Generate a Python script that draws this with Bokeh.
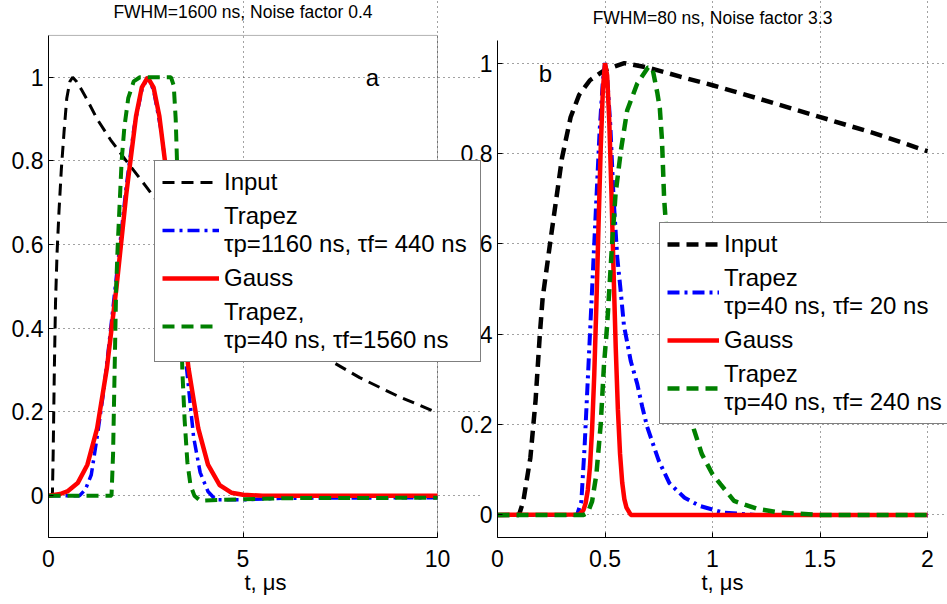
from bokeh.plotting import figure
from bokeh.models import Range1d, FixedTicker, Legend, LegendItem, Label, BoxAnnotation
from bokeh.layouts import row
from bokeh.embed import file_html
from bokeh.resources import INLINE

FONT = "Liberation Sans"

# ---------------- panel a data (t in microseconds) ----------------
title_a = "FWHM=1600 ns, Noise factor 0.4"
t_input_a = [0, 0.1, 0.12, 0.15, 0.18, 0.22, 0.27, 0.33, 0.4, 0.47, 0.55, 0.62, 0.72, 0.85,
             1.0, 1.25, 1.6, 2.0, 2.5, 3.0, 3.5, 4.0, 5.0, 6.0, 7.0, 8.0, 9.0, 10.0]
v_input_a = [0, 0, 0.1, 0.3, 0.46, 0.58, 0.68, 0.78, 0.87, 0.95, 0.99, 1.0, 0.99, 0.97,
             0.945, 0.9, 0.85, 0.8, 0.74, 0.678, 0.621, 0.569, 0.477, 0.4, 0.336, 0.282, 0.237, 0.198]
t_trap1_a = [0, 0.8, 0.95, 1.1, 1.25, 1.42, 1.6, 1.8, 2.0, 2.2, 2.4, 2.55, 2.7, 2.9, 3.1, 3.3,
             3.5, 3.73, 3.9, 4.1, 4.3, 5.0, 6.0, 10.0]
v_trap1_a = [0, 0, 0.015, 0.05, 0.14, 0.25, 0.4, 0.57, 0.74, 0.88, 0.97, 1.0, 0.97, 0.87, 0.72, 0.54,
             0.35, 0.14, 0.055, 0.01, -0.01, -0.01, -0.006, -0.005]
t_gauss_a = [0, 0.3, 0.5, 0.75, 1.0, 1.25, 1.5, 1.75, 2.0, 2.25, 2.4, 2.55, 2.7, 2.85, 3.1, 3.35,
             3.6, 3.85, 4.1, 4.4, 4.7, 5.0, 5.5, 10.0]
v_gauss_a = [0.0, 0.004, 0.011, 0.03, 0.074, 0.161, 0.304, 0.5, 0.721, 0.907, 0.976, 1.0, 0.976, 0.907,
             0.721, 0.5, 0.304, 0.161, 0.074, 0.025, 0.007, 0.002, 0.0, 0.0]
t_trap2_a = [0, 1.62, 1.66, 1.7, 1.74, 1.78, 1.82, 1.88, 1.95, 2.05, 2.19, 2.35, 3.15, 3.22, 3.27,
             3.32, 3.38, 3.44, 3.5, 3.57, 3.65, 3.75, 3.9, 4.5, 6.0, 10.0]
v_trap2_a = [0, 0, 0.1, 0.3, 0.5, 0.6, 0.68, 0.8, 0.88, 0.95, 0.99, 1.0, 1.0, 0.98, 0.9,
             0.75, 0.55, 0.3, 0.18, 0.08, 0.025, 0.0, -0.012, -0.01, -0.006, -0.005]
labels_a = ["Input", "Trapez\nτp=1160 ns, τf= 440 ns", "Gauss", "Trapez,\nτp=40 ns, τf=1560 ns"]
x_ticks_a = [0, 5, 10]
x_tick_labels_a = ["0", "5", "10"]
x_lim_a = (0, 10)
y_lim_a = (-0.1, 1.1)

# ---------------- panel b data ----------------
title_b = "FWHM=80 ns, Noise factor 3.3"
t_input_b = [0, 0.1, 0.12, 0.153, 0.177, 0.197, 0.21, 0.25, 0.3, 0.34, 0.38, 0.43, 0.5, 0.59,
             0.7, 0.85, 1.0, 1.21, 1.47, 1.75, 2.0]
v_input_b = [0, 0, 0.03, 0.127, 0.253, 0.4, 0.48, 0.62, 0.79, 0.88, 0.93, 0.962, 0.985, 1.0,
             0.99, 0.97, 0.951, 0.922, 0.885, 0.845, 0.805]
t_trap1_b = [0, 0.37, 0.39, 0.405, 0.415, 0.43, 0.445, 0.46, 0.475, 0.49, 0.5, 0.51, 0.525, 0.54,
             0.557, 0.572, 0.588, 0.62, 0.65, 0.673, 0.696, 0.75, 0.8, 0.87, 0.94, 1.05, 1.2, 2.0]
v_trap1_b = [0, 0, 0.03, 0.15, 0.25, 0.4, 0.55, 0.7, 0.85, 0.96, 1.0, 0.97, 0.86, 0.7,
             0.57, 0.5, 0.42, 0.34, 0.29, 0.24, 0.195, 0.12, 0.07, 0.038, 0.02, 0.005, 0.0, 0.0]
t_gauss_b = [0, 0.38, 0.40, 0.41, 0.42, 0.43, 0.44, 0.45, 0.46, 0.47, 0.48, 0.49, 0.50, 0.51,
             0.52, 0.53, 0.54, 0.55, 0.56, 0.57, 0.58, 0.59, 0.60, 0.62, 2.0]
v_gauss_b = [0, 0.001, 0.011, 0.026, 0.055, 0.106, 0.19, 0.31, 0.466, 0.642, 0.81, 0.94, 1.0, 0.973,
             0.87, 0.712, 0.536, 0.369, 0.233, 0.135, 0.072, 0.035, 0.016, 0.0, 0.0]
t_trap2_b = [0, 0.40, 0.42, 0.44, 0.46, 0.48, 0.495, 0.51, 0.533, 0.549, 0.575, 0.603, 0.65, 0.7,
             0.72, 0.743, 0.755, 0.765, 0.775, 0.79, 0.82, 0.85, 0.88, 0.913, 0.95, 1.0, 1.037,
             1.1, 1.21, 1.32, 1.5, 2.0]
v_trap2_b = [0, 0, 0.005, 0.03, 0.09, 0.2, 0.33, 0.42, 0.6, 0.71, 0.81, 0.895, 0.955, 0.99,
             0.99, 0.935, 0.9, 0.83, 0.7, 0.6, 0.46, 0.35, 0.27, 0.19, 0.135, 0.09, 0.068,
             0.031, 0.013, 0.005, 0.0, 0.0]
labels_b = ["Input", "Trapez\nτp=40 ns, τf= 20 ns", "Gauss", "Trapez\nτp=40 ns, τf= 240 ns"]
x_ticks_b = [0, 0.5, 1, 1.5, 2]
x_tick_labels_b = ["0", "0.5", "1", "1.5", "2"]
x_lim_b = (0, 2)
y_lim_b = (-0.05, 1.05)

y_ticks = [0, 0.2, 0.4, 0.6, 0.8, 1]
y_tick_labels = ["0", "0.2", "0.4", "0.6", "0.8", "1"]
x_axis_label = "t, μs"

CANVAS_H = 611


def make_panel(x_lim, y_lim, box_w, extra_right, box_h, extra_top, width, left, bottom):
    # The plotting frame is widened to the right and upward beyond the axes box, so
    # that the legend may overhang the box and the title may sit above it, as in the
    # original; the data ranges are widened by the matching amounts.
    x_end = x_lim[1] + (x_lim[1] - x_lim[0]) * extra_right / box_w
    y_end = y_lim[1] + (y_lim[1] - y_lim[0]) * extra_top / box_h
    p = figure(width=width, height=CANVAS_H, x_range=Range1d(x_lim[0], x_end),
               y_range=Range1d(y_lim[0], y_end), output_backend="svg",
               toolbar_location=None, min_border_left=left, min_border_right=0,
               min_border_top=0, min_border_bottom=bottom)
    p.outline_line_color = None
    p.background_fill_color = None
    p.border_fill_color = None
    return p


def style_axes(p, x_ticks, x_labels, x_lim, y_lim, title, title_dy):
    for ax, ticks, labs in ((p.xaxis[0], x_ticks, x_labels), (p.yaxis[0], y_ticks, y_tick_labels)):
        ax.ticker = FixedTicker(ticks=ticks)
        ax.major_label_overrides = dict(zip(ticks, labs))
        ax.major_label_text_font = FONT
        ax.major_label_text_font_size = "23px"
        ax.major_label_text_color = "black"
        ax.major_tick_in = 5
        ax.major_tick_out = 0
        ax.minor_tick_in = 0
        ax.minor_tick_out = 0
        ax.axis_line_color = "black"
        ax.major_tick_line_color = "black"
    p.xaxis.bounds = x_lim
    p.yaxis.bounds = y_lim
    p.xaxis.major_label_standoff = 12
    p.yaxis.major_label_standoff = 5
    p.xaxis.axis_label = x_axis_label
    p.xaxis.axis_label_text_font = FONT
    p.xaxis.axis_label_text_font_size = "22px"
    p.xaxis.axis_label_text_font_style = "normal"
    p.xaxis.axis_label_text_color = "black"
    p.xaxis.axis_label_standoff = 0
    p.xgrid.ticker = FixedTicker(ticks=x_ticks)
    p.ygrid.ticker = FixedTicker(ticks=y_ticks)
    p.ygrid.bounds = x_lim
    p.xgrid.bounds = y_lim
    for g in (p.xgrid, p.ygrid):
        g.grid_line_color = "#444444"
        g.grid_line_dash = "1 4"
        g.grid_line_width = 1
    # panel title, centred over the axes box
    p.add_layout(Label(x=(x_lim[0] + x_lim[1]) / 2, y=y_lim[1], y_offset=title_dy, text=title,
                       text_font=FONT, text_font_size="17.5px", text_color="black",
                       text_align="center", text_baseline="bottom"))


def add_curves(p, series, labels, widths, legend_loc, glyph_w, label_w):
    colors = ["black", "blue", "red", "green"]
    dashes = ["12 7", "12 5 3 5", "solid", "12 7"]
    items = []
    for (t, v), lab, c, d, w in zip(series, labels, colors, dashes, widths):
        r = p.line(t, v, line_color=c, line_dash=d, line_width=w)
        items.append(LegendItem(label=lab, renderers=[r]))
    leg = Legend(items=items, location=legend_loc, margin=0, padding=7, spacing=6,
                 glyph_width=glyph_w, glyph_height=20, label_standoff=5, label_width=label_w,
                 label_text_font=FONT, label_text_font_size="24px",
                 label_text_line_height=0.9, label_text_color="black",
                 border_line_color="black", border_line_width=1,
                 background_fill_color="white", background_fill_alpha=1.0)
    p.add_layout(leg, "center")


# ---------------- panel a ----------------
p1 = make_panel(x_lim_a, y_lim_a, box_w=389, extra_right=45, box_h=503, extra_top=43,
                width=490, left=56, bottom=65)
style_axes(p1, x_ticks_a, x_tick_labels_a, x_lim_a, y_lim_a, title_a, 13)
p1.add_layout(BoxAnnotation(left=x_lim_a[0], right=x_lim_a[1], bottom=y_lim_a[0], top=y_lim_a[1],
                            fill_alpha=0, line_color="black", line_width=1, level="underlay"))
add_curves(p1, [(t_input_a, v_input_a), (t_trap1_a, v_trap1_a), (t_gauss_a, v_gauss_a),
                (t_trap2_a, v_trap2_a)], labels_a, [3, 3.5, 4.5, 4], (106, 175), 57, 249)
p1.add_layout(Label(x=8.33, y=1.0, text="a", text_font=FONT, text_font_size="24px",
                    text_color="black", text_align="center", text_baseline="middle"))
p1.styles = {"z-index": "2"}

# ---------------- panel b ----------------
p2 = make_panel(x_lim_b, y_lim_b, box_w=430, extra_right=20, box_h=497, extra_top=48,
                width=497, left=47, bottom=66)
style_axes(p2, x_ticks_b, x_tick_labels_b, x_lim_b, y_lim_b, title_b, 13)
add_curves(p2, [(t_input_b, v_input_b), (t_trap1_b, v_trap1_b), (t_gauss_b, v_gauss_b),
                (t_trap2_b, v_trap2_b)], labels_b, [4.5, 4, 4.5, 4.5], (162, 113), 52, 20)
p2.add_layout(Label(x=0.223, y=0.976, text="b", text_font=FONT, text_font_size="24px",
                    text_color="black", text_align="center", text_baseline="middle"))
p2.margin = (0, 0, 0, -32)

layout = row(p1, p2)
layout.margin = (-8, 0, -8, -8)

open("out.html", "w").write(file_html(layout, INLINE))
